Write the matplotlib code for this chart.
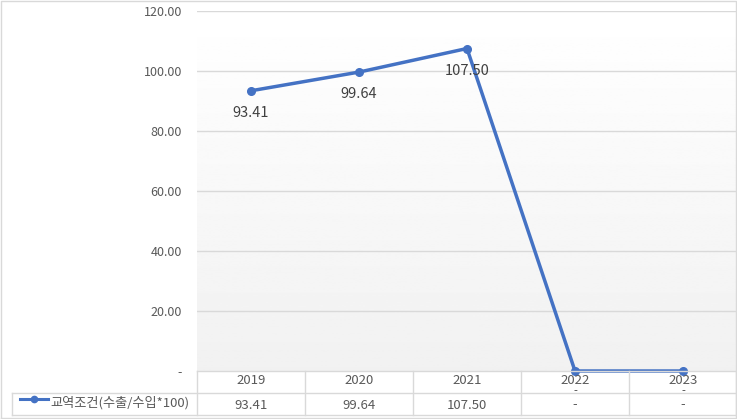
import matplotlib
matplotlib.use("Agg")
import matplotlib.pyplot as plt
import numpy as np
from matplotlib.lines import Line2D

plt.rcParams['font.family'] = ['Noto Sans CJK KR', 'DejaVu Sans']

categories = ["2019", "2020", "2021", "2022", "2023"]
values = [93.41, 99.64, 107.50, 0, 0]
value_labels = ["93.41", "99.64", "107.50", "-", "-"]
yticks = [0, 20, 40, 60, 80, 100, 120]
ytick_labels = ["-", "20.00", "40.00", "60.00", "80.00", "100.00", "120.00"]
series_name = "교역조건(수출/수입*100)"

W, H = 737, 419
fig = plt.figure(figsize=(W / 100, H / 100), dpi=100)

def fx(px):
    return px / W

def fy(py):
    return 1 - py / H

left, right, top, bottom = 197, 737, 11, 371
ax = fig.add_axes([fx(left), fy(bottom), (right - left) / W, (bottom - top) / H])
n = len(categories)
ax.set_xlim(-0.5, n - 0.5)
ax.set_ylim(0, 120)

# gradient background
grad = np.linspace(0.945, 1.0, 256).reshape(-1, 1)
ax.imshow(grad, extent=[-0.5, n - 0.5, 0, 120], aspect='auto', cmap='gray',
          vmin=0, vmax=1, origin='lower', zorder=0)

for t in yticks[1:]:
    ax.axhline(t, color='#d9d9d9', lw=1, zorder=1)

x = np.arange(n)
color = '#4472C4'
ax.plot(x, values, color=color, lw=2.5, marker='o', ms=5.5, zorder=3, clip_on=False)

for xi, v, lab in zip(x, values, value_labels):
    if lab == "-":
        ax.annotate(lab, (xi, v), xytext=(0, -14.5), textcoords='offset points',
                    ha='center', va='center', fontsize=8, color='#404040',
                    annotation_clip=False, zorder=10)
    else:
        ax.annotate(lab, (xi, v), xytext=(0, -16), textcoords='offset points',
                    ha='center', va='center', fontsize=10.5, color='#404040')

ax.set_yticks(yticks)
ax.set_yticklabels(ytick_labels, fontsize=9, color='#595959')
ax.tick_params(axis='y', length=0, pad=10.8)
ax.set_xticks([])
for s in ax.spines.values():
    s.set_visible(False)

# table
lc = '#d9d9d9'
r0, r1, r2 = 371, 393, 415
tl = 12
def hline(y, x0, x1):
    fig.add_artist(Line2D([fx(x0), fx(x1)], [fy(y), fy(y)], color=lc, lw=1, zorder=0.5))
def vline(xp, y0, y1):
    fig.add_artist(Line2D([fx(xp), fx(xp)], [fy(y0), fy(y1)], color=lc, lw=1, zorder=0.5))

hline(r0, left, 736)
hline(r1, tl, 736)
hline(r2, tl, 736)
vline(tl, r1, r2)
for i in range(n + 1):
    xp = left + i * 108
    vline(min(xp, 736), r0, r2)

for i, c in enumerate(categories):
    cx = left + 54 + i * 108
    fig.text(fx(cx), fy(380.5), c, ha='center', va='center',
             fontsize=9.5, color='#595959')
    fig.text(fx(cx), fy(405), value_labels[i], ha='center', va='center',
             fontsize=9.5, color='#595959')

# legend key
fig.add_artist(Line2D([fx(20), fx(48)], [fy(399), fy(399)], color=color, lw=2.2))
fig.add_artist(Line2D([fx(34)], [fy(399)], color=color, marker='o', ms=4.5))
fig.text(fx(50), fy(403), series_name, ha='left', va='center', fontsize=9.5, color='#595959')

# outer border
fig.add_artist(Line2D([0.0007, 0.9993, 0.9993, 0.0007, 0.0007],
                      [0.0012, 0.0012, 0.9988, 0.9988, 0.0012], color=lc, lw=1))

fig.savefig("out.png", dpi=100)
